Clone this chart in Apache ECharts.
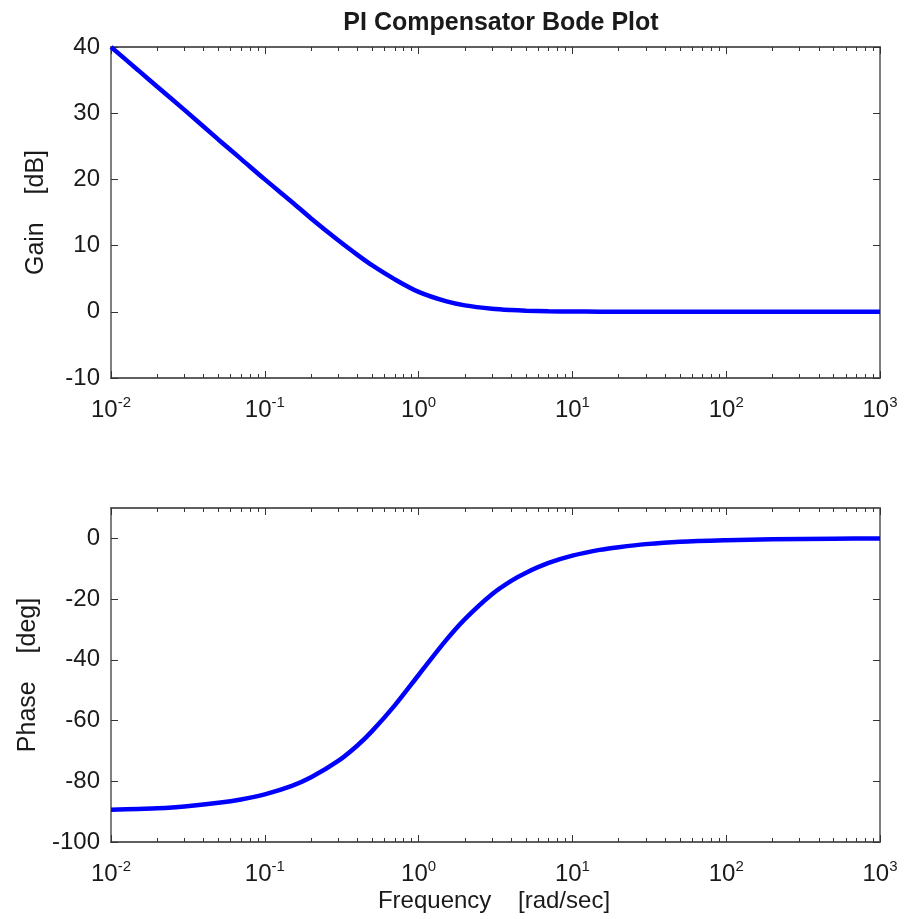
<!DOCTYPE html>
<html>
<head>
<meta charset="utf-8">
<script src="https://cdn.jsdelivr.net/npm/echarts@6/dist/echarts.min.js"></script>
<style>
html,body{margin:0;padding:0;background:#fff;}
#c{width:911px;height:919px;}
</style>
</head>
<body>
<div id="c"></div>
<script>
// Frequencies (rad/sec) sampled along the curves
var freq = [0.01, 0.015, 0.02, 0.03, 0.05, 0.07, 0.1, 0.15, 0.2, 0.3, 0.4, 0.5, 0.7, 1, 1.5, 2, 3, 4, 5, 7, 10, 15, 20, 30, 50, 100, 200, 500, 1000];
// Gain [dB]
var gainDb = [40, 36.5, 34, 30.5, 26, 23.1, 20, 16.6, 14.1, 10.8, 8.6, 7.0, 4.9, 3.0, 1.6, 0.97, 0.46, 0.26, 0.17, 0.09, 0.04, 0.02, 0.01, 0.005, 0.002, 0, 0, 0, 0];
// Phase [deg]
var phaseDeg = [-89.4, -89.1, -88.9, -88.3, -87.1, -86.0, -84.3, -81.5, -78.7, -73.3, -68.2, -63.4, -55.0, -45.0, -33.7, -26.6, -18.4, -14.0, -11.3, -8.1, -5.7, -3.8, -2.9, -1.9, -1.1, -0.6, -0.3, -0.1, -0.06];

var xTickLabels = [0.01, 0.1, 1, 10, 100, 1000];
var gainTicks = [-10, 0, 10, 20, 30, 40];
var phaseTicks = [-100, -80, -60, -40, -20, 0];

var minorVals = [];
[0.01, 0.1, 1, 10, 100].forEach(function (d) {
  for (var k = 2; k <= 9; k++) minorVals.push(+(d * k).toPrecision(3));
});

var FONT = 'Liberation Sans, Arial, sans-serif';
var AX = '#555';
var TXT = '#1a1a1a';

function expLabel(v) {
  var e = Math.round(Math.log10(v));
  return '10{sup|' + e + '}';
}

function xAxes(gridIndex) {
  var base = {
    type: 'log', logBase: 10, min: 0.01, max: 1000, gridIndex: gridIndex,
    axisLine: {show: true, onZero: false, lineStyle: {color: AX, width: 1.5}},
    splitLine: {show: false}
  };
  var bottomMajor = Object.assign({}, base, {
    position: 'bottom',
    axisTick: {show: true, inside: true, length: 7, customValues: xTickLabels, lineStyle: {color: '#333', width: 1}},
    axisLabel: {
      show: true, customValues: xTickLabels, margin: 17,
      formatter: expLabel,
      color: TXT, fontFamily: FONT, fontSize: 24,
      rich: {
        sup: {fontSize: 15, fontFamily: FONT, color: TXT, verticalAlign: 'top', padding: [0, 0, 15, 0]}
      }
    }
  });
  var bottomMinor = Object.assign({}, base, {
    position: 'bottom',
    axisTick: {show: true, inside: true, length: 4, customValues: minorVals, lineStyle: {color: '#333', width: 1}},
    axisLabel: {show: false}
  });
  var topMajor = Object.assign({}, base, {
    position: 'top',
    axisTick: {show: true, inside: true, length: 7, customValues: xTickLabels, lineStyle: {color: '#333', width: 1}},
    axisLabel: {show: false}
  });
  var topMinor = Object.assign({}, base, {
    position: 'top',
    axisTick: {show: true, inside: true, length: 4, customValues: minorVals, lineStyle: {color: '#333', width: 1}},
    axisLabel: {show: false}
  });
  return [bottomMajor, bottomMinor, topMajor, topMinor];
}

function yAxes(gridIndex, min, max, ticks, name, gap) {
  var left = {
    type: 'value', gridIndex: gridIndex, min: min, max: max, position: 'left',
    name: name, nameLocation: 'middle', nameGap: gap, nameRotate: 90,
    nameTextStyle: {fontFamily: FONT, fontSize: 25, color: TXT},
    axisLine: {show: true, onZero: false, lineStyle: {color: AX, width: 1.5}},
    axisTick: {show: true, inside: true, length: 7, customValues: ticks, lineStyle: {color: '#333'}},
    axisLabel: {show: true, customValues: ticks, margin: 11, fontFamily: FONT, fontSize: 24, color: TXT},
    splitLine: {show: false}
  };
  var right = {
    type: 'value', gridIndex: gridIndex, min: min, max: max, position: 'right',
    axisLine: {show: true, onZero: false, lineStyle: {color: AX, width: 1.5}},
    axisTick: {show: true, inside: true, length: 7, customValues: ticks, lineStyle: {color: '#333'}},
    axisLabel: {show: false},
    splitLine: {show: false}
  };
  return [left, right];
}

var chart = echarts.init(document.getElementById('c'), null, {renderer: 'canvas'});
var xs = xAxes(0).concat(xAxes(1));
var ys = yAxes(0, -10, 40, gainTicks, 'Gain    [dB]', 62).concat(yAxes(1, -100, 10, phaseTicks, 'Phase    [deg]', 62));

function pairs(f, v) { return f.map(function (x, i) { return [x, v[i]]; }); }

chart.setOption({
  animation: false,
  backgroundColor: '#fff',
  title: {
    text: 'PI Compensator Bode Plot', left: 496, top: 6, textAlign: 'center',
    textStyle: {fontFamily: FONT, fontSize: 25, fontWeight: 'bold', color: TXT}
  },
  grid: [
    {left: 111, top: 47, width: 769, height: 331},
    {left: 111, top: 508, width: 769, height: 334}
  ],
  graphic: [{
    type: 'text', x: 494, y: 889,
    style: {text: 'Frequency    [rad/sec]', font: '24px Liberation Sans, Arial, sans-serif', fill: TXT, textAlign: 'center'}
  }],
  xAxis: xs,
  yAxis: ys,
  series: [
    {type: 'line', xAxisIndex: 0, yAxisIndex: 0, data: pairs(freq, gainDb), smooth: 0.3, showSymbol: false,
     lineStyle: {color: '#0000ff', width: 4.5}},
    {type: 'line', xAxisIndex: 4, yAxisIndex: 2, data: pairs(freq, phaseDeg), smooth: 0.3, showSymbol: false,
     lineStyle: {color: '#0000ff', width: 4.5}}
  ]
});
</script>
</body>
</html>
